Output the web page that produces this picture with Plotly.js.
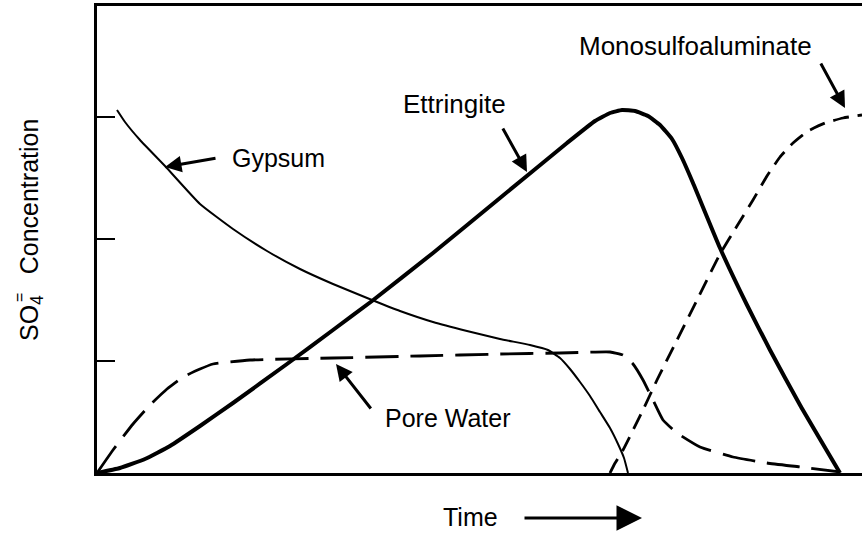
<!DOCTYPE html>
<html>
<head>
<meta charset="utf-8">
<script src="https://cdn.plot.ly/plotly-3.0.1.min.js"></script>
<style>html,body{margin:0;padding:0;background:#fff;}#chart{width:862px;height:533px;}</style>
</head>
<body>
<div id="chart"></div>
<script>
// Data (time in arbitrary units, SO4 concentration in arbitrary units)
const gypsumTime = [20,28,43,68,103,136,170,203,236,275,303,336,370,403,433,451,463,473,483,493,503,513,521,527,531];
const gypsumConc = [363,351,333,307,269,244,222,204,189,173,162,151,142,134,128,123,115,104,91,77,61,45,29,15,0];

const ettringiteTime = [0,23,48,73,103,136,190,236,275,336,403,470,498,513,525,538,551,563,575,585,596,623,650,673,703,743];
const ettringiteConc = [0,5,14,27,47,70,109,143,172,220,275,330,352,360,363,362,357,348,334,315,290,225,168,123,68,0];

const poreWaterTime = [0,16,36,53,70,86,103,116,153,236,323,403,463,513,526,536,546,556,566,580,603,636,670,703,743];
const poreWaterConc = [0,23,49,68,84,96,104,109,113,115,117,119,120,121,118,109,93,73,53,40,26,16,10,6,1];

const monoTime = [513,517,526,546,560,580,600,623,640,656,670,683,696,711,728,746,765];
const monoConc = [0,8,23,63,93,133,173,219,247,273,297,316,330,342,350,355,358];

const yTickVals = [112,234,356];
const xRange = [0,765];
const yRange = [0,467];

const labels = {
  gypsum: 'Gypsum',
  ettringite: 'Ettringite',
  mono: 'Monosulfoaluminate',
  pore: 'Pore Water',
  time: 'Time',
  yTitle: 'SO<sub>4</sub>\u00A0\u00A0\u00A0Concentration',
  charge: '='
};

// layout geometry
const W = 862, H = 533, ML = 97, MR = 0, MT = 6, MB = 60;
const PW = W - ML - MR, PH = H - MT - MB;
const px = x => (x - ML) / PW;
const py = y => (H - MB - y) / PH;

const FONT = 'Liberation Sans, Arial, Helvetica, sans-serif';

const traces = [
  {x: gypsumTime, y: gypsumConc, mode: 'lines', name: labels.gypsum,
   line: {color: '#000', width: 2, shape: 'spline', smoothing: 0.4}},
  {x: ettringiteTime, y: ettringiteConc, mode: 'lines', name: labels.ettringite,
   line: {color: '#000', width: 4, shape: 'spline', smoothing: 0.4}},
  {x: poreWaterTime, y: poreWaterConc, mode: 'lines', name: labels.pore,
   line: {color: '#000', width: 2.8, dash: '33px,12px', shape: 'spline', smoothing: 0.4}},
  {x: monoTime, y: monoConc, mode: 'lines', name: labels.mono,
   line: {color: '#000', width: 2.8, dash: '16px,9px', shape: 'spline', smoothing: 0.4}}
];

function textAnn(text, x, y, size, extra) {
  return Object.assign({
    text: text, xref: 'paper', yref: 'paper', x: px(x), y: py(y),
    xanchor: 'center', yanchor: 'middle', showarrow: false,
    font: {family: FONT, size: size, color: '#000'}
  }, extra || {});
}
function arrowAnn(tailX, tailY, tipX, tipY, width, size) {
  return {
    text: '', xref: 'paper', yref: 'paper', x: px(tipX), y: py(tipY),
    axref: 'pixel', ayref: 'pixel', ax: tailX - tipX, ay: tailY - tipY,
    showarrow: true, arrowhead: 2, arrowwidth: width, arrowsize: size,
    arrowcolor: '#000', standoff: 0, startstandoff: 0
  };
}

const annotations = [
  textAnn(labels.gypsum, 278, 158, 25),
  arrowAnn(217, 158, 165, 167, 3, 1.1),
  textAnn(labels.ettringite, 454, 104, 26),
  arrowAnn(502, 127, 527, 172, 3, 1.1),
  textAnn(labels.mono, 695, 46, 26),
  arrowAnn(820, 62, 845, 108, 3, 1.1),
  textAnn(labels.pore, 448, 418, 25),
  arrowAnn(372, 410, 336, 364, 3, 1.1),
  textAnn(labels.time, 470, 517, 25),
  arrowAnn(523, 518, 642, 518, 3, 1.7),
  textAnn(labels.yTitle, 31, 230, 25, {textangle: -90}),
  textAnn(labels.charge, 19, 298, 16, {textangle: -90})
];

const layout = {
  width: W, height: H,
  margin: {l: ML, r: MR, t: MT, b: MB, pad: 0},
  paper_bgcolor: '#fff', plot_bgcolor: '#fff',
  showlegend: false,
  font: {family: FONT, color: '#000'},
  xaxis: {range: xRange, showgrid: false, zeroline: false, showticklabels: false,
          ticks: '', showline: true, linecolor: '#000', linewidth: 3, mirror: true, fixedrange: true},
  yaxis: {range: yRange, showgrid: false, zeroline: false, showticklabels: false,
          tickmode: 'array', tickvals: yTickVals, ticks: 'inside', ticklen: 18, tickwidth: 2.5,
          tickcolor: '#000', showline: true, linecolor: '#000', linewidth: 3, mirror: false, fixedrange: true},
  annotations: annotations
};

Plotly.newPlot('chart', traces, layout, {displayModeBar: false, staticPlot: true});
</script>
</body>
</html>
